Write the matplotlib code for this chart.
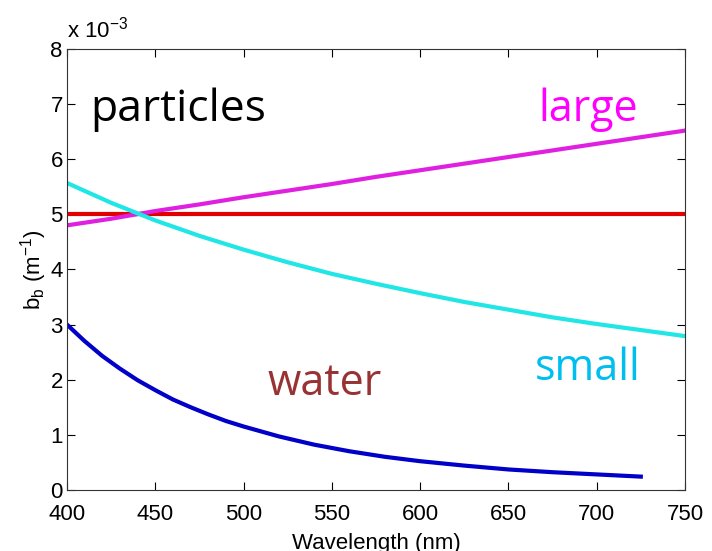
import numpy as np
import matplotlib.pyplot as plt

# backscattering spectra, values in units of 1e-3 m^-1
wl = [400, 425, 450, 475, 500, 525, 550, 575, 600, 625, 650, 675, 700, 725, 750]
bb_small = [5.57, 5.21, 4.89, 4.61, 4.36, 4.13, 3.92, 3.74, 3.57, 3.41, 3.27, 3.13, 3.01, 2.90, 2.79]
bb_large = [4.80, 4.92, 5.06, 5.18, 5.31, 5.43, 5.55, 5.68, 5.80, 5.92, 6.04, 6.16, 6.28, 6.40, 6.52]
bb_ref = [5.0] * len(wl)

wl_water = [400, 410, 420, 430, 440, 450, 460, 470, 480, 490, 500, 520, 540, 560, 580,
            600, 625, 650, 675, 700, 725]
bb_water = [3.00, 2.70, 2.43, 2.20, 1.99, 1.81, 1.64, 1.50, 1.37, 1.25, 1.15, 0.97, 0.82, 0.70, 0.60,
            0.52, 0.44, 0.37, 0.32, 0.28, 0.24]

plt.rcParams['font.family'] = ['Liberation Sans', 'DejaVu Sans']

fig = plt.figure(figsize=(7.12, 5.51), dpi=100)
ax = fig.add_axes([0.094, 0.111, 0.868, 0.800])

ax.plot(wl, bb_ref, color='#e00000', lw=3)
ax.plot(wl, bb_large, color='#e020e0', lw=3)
ax.plot(wl, bb_small, color='#20e6e6', lw=3)
ax.plot(wl_water, bb_water, color='#0000c8', lw=3)

ax.set_xlim(400, 750)
ax.set_ylim(0, 8)
ax.set_xticks(range(400, 751, 50))
ax.set_yticks(range(0, 9))
ax.tick_params(direction='in', top=True, right=True, labelsize=16, length=6, width=0.8)
ax.tick_params(axis='x', pad=10)
ax.tick_params(axis='y', pad=3)
for s in ax.spines.values():
    s.set_linewidth(0.8)
    s.set_color('#333333')

ax.set_xlabel('Wavelength (nm)', fontsize=16, labelpad=6)
ax.set_ylabel('b$_\\mathregular{b}$ (m$^\\mathregular{-1}$)', fontsize=16, labelpad=1)
ax.text(0.0, 1.015, 'x 10$^\\mathregular{-3}$', transform=ax.transAxes, fontsize=16, ha='left', va='bottom')

tfont = 'Open Sans'
ax.text(413, 6.9, 'particles', fontsize=32, color='black', family=tfont, va='center')
ax.text(695, 6.9, 'large', fontsize=31, color='#ff00ff', family=tfont, va='center', ha='center')
ax.text(695, 2.2, 'small', fontsize=31, color='#00bfef', family=tfont, va='center', ha='center')
ax.text(546, 1.92, 'water', fontsize=31, color='#993333', family=tfont, va='center', ha='center')

fig.savefig('out.png', dpi=100)
